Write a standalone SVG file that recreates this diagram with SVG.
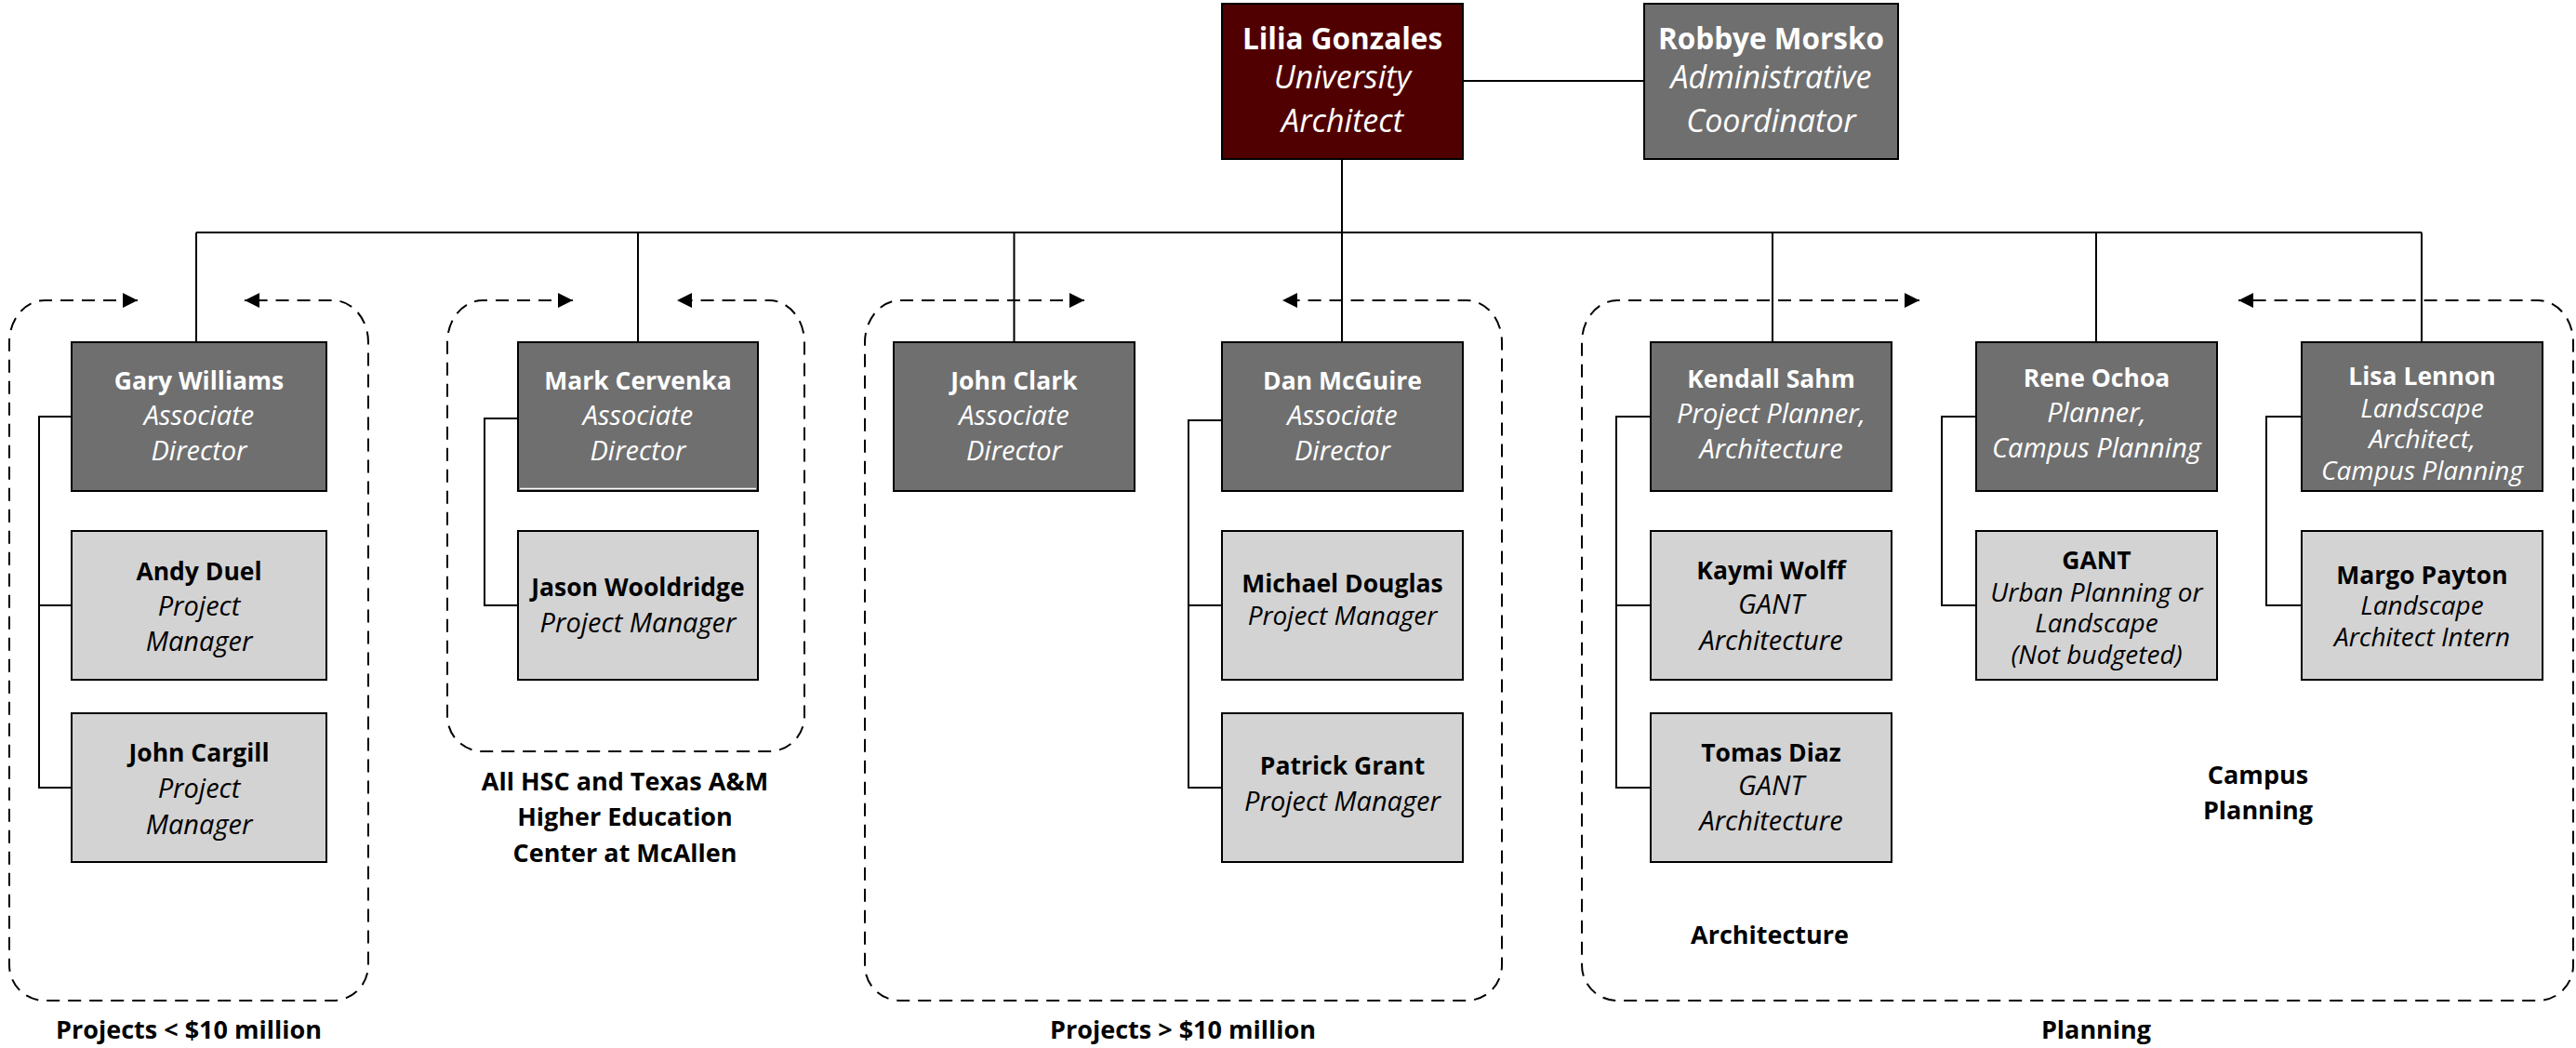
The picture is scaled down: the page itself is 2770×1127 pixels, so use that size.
<svg xmlns="http://www.w3.org/2000/svg" width="2770" height="1127" viewBox="0 0 2770 1127">
<style>
text{font-family:"Open Sans",Lato,"Liberation Sans",sans-serif;text-anchor:middle}
.big{font-size:31.5px}
.m{font-size:26.5px}
.s{font-size:25px}
.b{font-weight:bold}
.i{font-style:italic}
.big.i{font-size:34px}
.m.i{font-size:29px}
.s.i{font-size:28px}
.s.b{font-size:26.5px}
.w{fill:#ffffff}
.k{fill:#000000}
.maroon{fill:#500000;stroke:#000;stroke-width:2}
.dark{fill:#6f6f6f;stroke:#000;stroke-width:2}
.light{fill:#d3d3d3;stroke:#000;stroke-width:2}
.conn{fill:none;stroke:#000;stroke-width:2}
.grp{fill:none;stroke:#000;stroke-width:2;stroke-dasharray:14 9;marker-start:url(#arr);marker-end:url(#arr)}
.lbl{font-size:27px;font-weight:bold;fill:#000}
</style>
<defs>
<marker id="arr" markerUnits="userSpaceOnUse" markerWidth="16" markerHeight="16" viewBox="0 0 16 16" refX="16" refY="8" orient="auto-start-reverse">
<path d="M0,0 L16,8 L0,16 z" fill="#000"/>
</marker>
</defs>
<rect width="2770" height="1127" fill="#fff"/>

<g id="groups">
<path class="grp" d="M148,323 H48 A38,45 0 0 0 10,368 V1038 A38,38 0 0 0 48,1076 H358 A38,38 0 0 0 396,1038 V368 A38,45 0 0 0 358,323 H263"/>
<path class="grp" d="M616,323 H519 A38,45 0 0 0 481,368 V770 A38,38 0 0 0 519,808 H827 A38,38 0 0 0 865,770 V368 A38,45 0 0 0 827,323 H728"/>
<path class="grp" d="M1166,323 H968 A38,45 0 0 0 930,368 V1038 A38,38 0 0 0 968,1076 H1577 A38,38 0 0 0 1615,1038 V368 A38,45 0 0 0 1577,323 H1379"/>
<path class="grp" d="M2064,323 H1739 A38,45 0 0 0 1701,368 V1038 A38,38 0 0 0 1739,1076 H2729 A38,38 0 0 0 2767,1038 V368 A38,45 0 0 0 2729,323 H2407"/>
</g>

<g id="connectors">
<path class="conn" d="M1573,87 H1768"/>
<path class="conn" d="M1443,171 V368"/>
<path class="conn" d="M211,250 H2604"/>
<path class="conn" d="M211,250 V368 M686,250 V368 M1090.5,250 V368 M1906,250 V368 M2254,250 V368 M2604,250 V368"/>
<path class="conn" d="M77,448 H42 V847 H77 M42,651 H77"/>
<path class="conn" d="M557,450 H521 V651 H557"/>
<path class="conn" d="M1314,452 H1278 V847 H1314 M1278,651 H1314"/>
<path class="conn" d="M1775,448 H1738 V847 H1775 M1738,651 H1775"/>
<path class="conn" d="M2125,448 H2088 V651 H2125"/>
<path class="conn" d="M2475,448 H2437 V651 H2475"/>
</g>

<g id="lilia-gonzales">
<rect class="maroon" x="1314" y="4" width="259" height="167"/>
<text class="big b w" x="1443.5" y="53">Lilia Gonzales</text>
<text class="big i w" x="1443.5" y="95">University</text>
<text class="big i w" x="1443.5" y="142">Architect</text>
</g>
<g id="robbye-morsko">
<rect class="dark" x="1768" y="4" width="273" height="167"/>
<text class="big b w" x="1904.5" y="53">Robbye Morsko</text>
<text class="big i w" x="1904.5" y="95">Administrative</text>
<text class="big i w" x="1904.5" y="142">Coordinator</text>
</g>

<g id="gary-williams">
<rect class="dark" x="77" y="368" width="274" height="160"/>
<text class="m b w" x="214" y="419">Gary Williams</text>
<text class="m i w" x="214" y="457">Associate</text>
<text class="m i w" x="214" y="495">Director</text>
</g>
<g id="mark-cervenka">
<rect class="dark" x="557" y="368" width="258" height="160"/>
<line x1="559" y1="525.5" x2="813" y2="525.5" stroke="#fff" stroke-width="1.5"/>
<text class="m b w" x="686" y="419">Mark Cervenka</text>
<text class="m i w" x="686" y="457">Associate</text>
<text class="m i w" x="686" y="495">Director</text>
</g>
<g id="john-clark">
<rect class="dark" x="961" y="368" width="259" height="160"/>
<text class="m b w" x="1090.5" y="419">John Clark</text>
<text class="m i w" x="1090.5" y="457">Associate</text>
<text class="m i w" x="1090.5" y="495">Director</text>
</g>
<g id="dan-mcguire">
<rect class="dark" x="1314" y="368" width="259" height="160"/>
<text class="m b w" x="1443.5" y="419">Dan McGuire</text>
<text class="m i w" x="1443.5" y="457">Associate</text>
<text class="m i w" x="1443.5" y="495">Director</text>
</g>
<g id="kendall-sahm">
<rect class="dark" x="1775" y="368" width="259" height="160"/>
<text class="m b w" x="1904.5" y="417">Kendall Sahm</text>
<text class="m i w" x="1904.5" y="455">Project Planner,</text>
<text class="m i w" x="1904.5" y="493">Architecture</text>
</g>
<g id="rene-ochoa">
<rect class="dark" x="2125" y="368" width="259" height="160"/>
<text class="m b w" x="2254.5" y="416">Rene Ochoa</text>
<text class="m i w" x="2254.5" y="454">Planner,</text>
<text class="m i w" x="2254.5" y="492">Campus Planning</text>
</g>
<g id="lisa-lennon">
<rect class="dark" x="2475" y="368" width="259" height="160"/>
<text class="s b w" x="2604.5" y="414">Lisa Lennon</text>
<text class="s i w" x="2604.5" y="449">Landscape</text>
<text class="s i w" x="2604.5" y="482">Architect,</text>
<text class="s i w" x="2604.5" y="516">Campus Planning</text>
</g>

<g id="andy-duel">
<rect class="light" x="77" y="571" width="274" height="160"/>
<text class="m b k" x="214" y="624">Andy Duel</text>
<text class="m i k" x="214" y="662">Project</text>
<text class="m i k" x="214" y="700">Manager</text>
</g>
<g id="jason-wooldridge">
<rect class="light" x="557" y="571" width="258" height="160"/>
<text class="m b k" x="686" y="641">Jason Wooldridge</text>
<text class="m i k" x="686" y="680">Project Manager</text>
</g>
<g id="michael-douglas">
<rect class="light" x="1314" y="571" width="259" height="160"/>
<text class="s b k" x="1443.5" y="637">Michael Douglas</text>
<text class="s i k" x="1443.5" y="672">Project Manager</text>
</g>
<g id="kaymi-wolff">
<rect class="light" x="1775" y="571" width="259" height="160"/>
<text class="m b k" x="1904.5" y="623">Kaymi Wolff</text>
<text class="m i k" x="1904.5" y="660">GANT</text>
<text class="m i k" x="1904.5" y="699">Architecture</text>
</g>
<g id="gant">
<rect class="light" x="2125" y="571" width="259" height="160"/>
<text class="s b k" x="2254.5" y="612">GANT</text>
<text class="s i k" x="2254.5" y="647">Urban Planning or</text>
<text class="s i k" x="2254.5" y="680">Landscape</text>
<text class="s i k" x="2254.5" y="714">(Not budgeted)</text>
</g>
<g id="margo-payton">
<rect class="light" x="2475" y="571" width="259" height="160"/>
<text class="s b k" x="2604.5" y="628">Margo Payton</text>
<text class="s i k" x="2604.5" y="661">Landscape</text>
<text class="s i k" x="2604.5" y="695">Architect Intern</text>
</g>

<g id="john-cargill">
<rect class="light" x="77" y="767" width="274" height="160"/>
<text class="m b k" x="214" y="819">John Cargill</text>
<text class="m i k" x="214" y="858">Project</text>
<text class="m i k" x="214" y="897">Manager</text>
</g>
<g id="patrick-grant">
<rect class="light" x="1314" y="767" width="259" height="160"/>
<text class="m b k" x="1443.5" y="833">Patrick Grant</text>
<text class="m i k" x="1443.5" y="872">Project Manager</text>
</g>
<g id="tomas-diaz">
<rect class="light" x="1775" y="767" width="259" height="160"/>
<text class="m b k" x="1904.5" y="819">Tomas Diaz</text>
<text class="m i k" x="1904.5" y="855">GANT</text>
<text class="m i k" x="1904.5" y="893">Architecture</text>
</g>

<g id="labels">
<text class="lbl" x="203" y="1117">Projects &lt; $10 million</text>
<text class="lbl" x="672" y="850">All HSC and Texas A&amp;M</text>
<text class="lbl" x="672" y="888">Higher Education</text>
<text class="lbl" x="672" y="927">Center at McAllen</text>
<text class="lbl" x="1272" y="1117">Projects &gt; $10 million</text>
<text class="lbl" x="1903" y="1015">Architecture</text>
<text class="lbl" x="2428" y="843">Campus</text>
<text class="lbl" x="2428" y="881">Planning</text>
<text class="lbl" x="2254" y="1117">Planning</text>
</g>
</svg>
